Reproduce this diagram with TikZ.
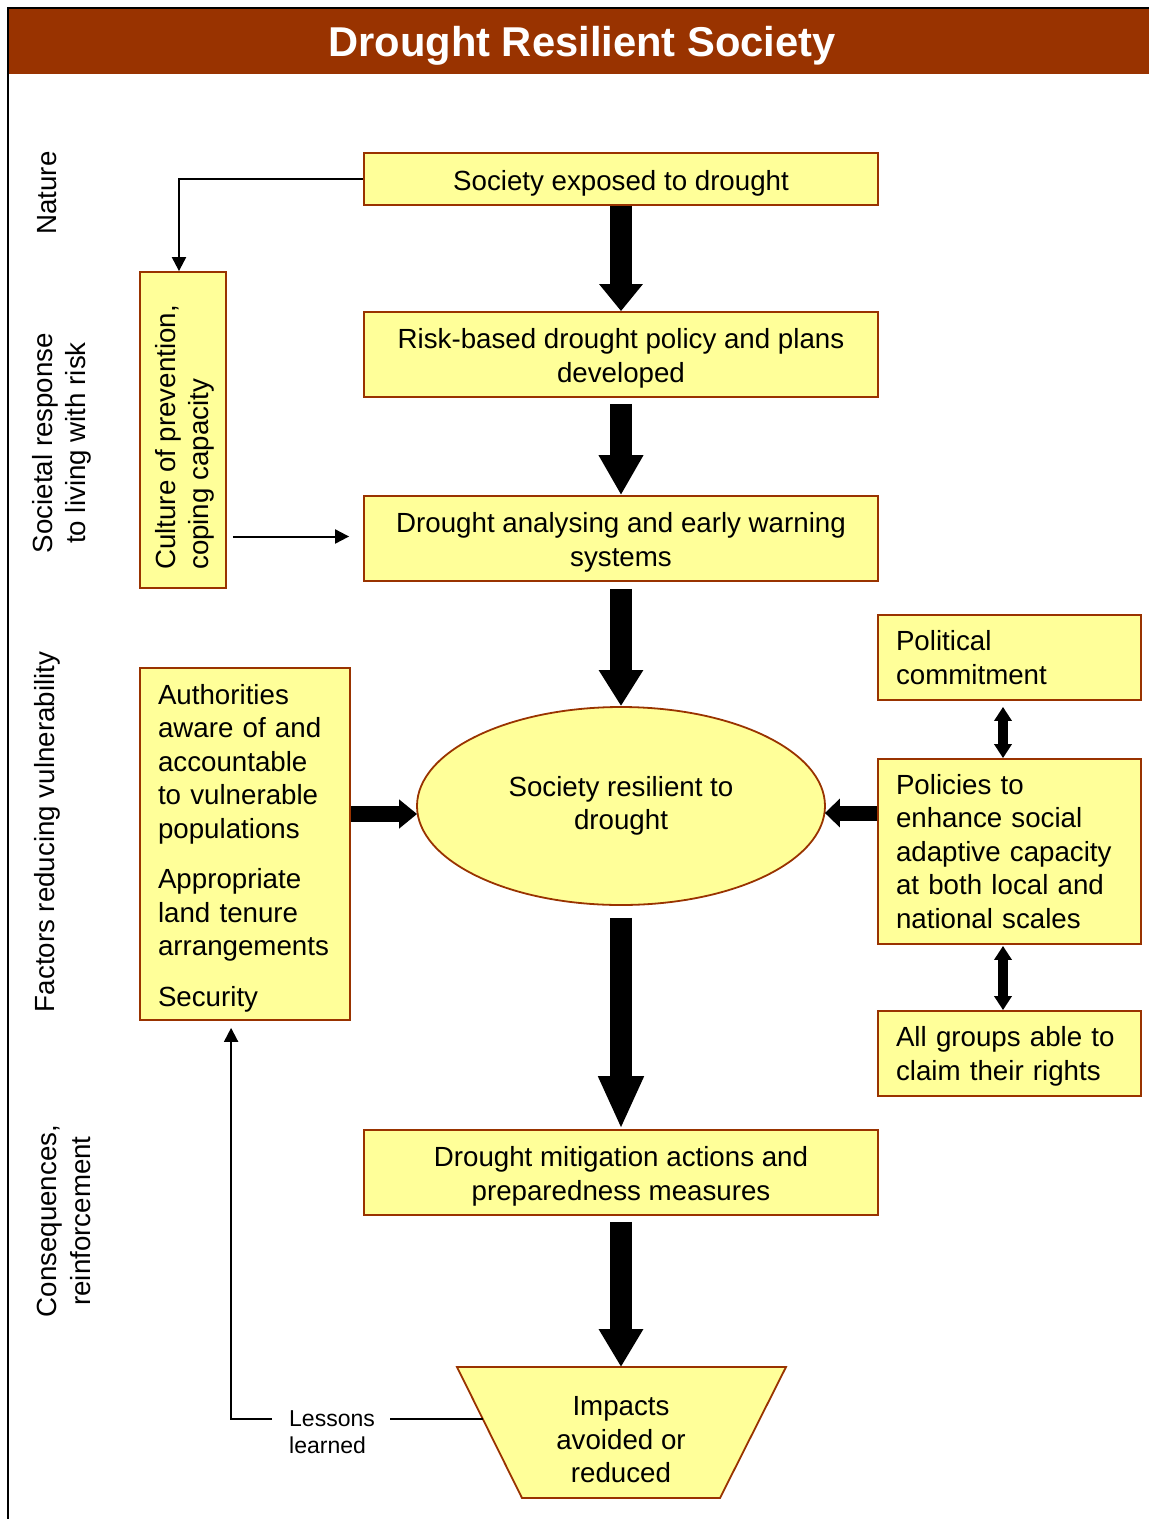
\documentclass[tikz,border=0pt]{standalone}
\usepackage{fontspec}
\setmainfont{Liberation Sans}
\usetikzlibrary{arrows.meta,shapes.geometric,calc}
\definecolor{boxfill}{HTML}{FFFF99}
\definecolor{boxline}{HTML}{993300}
\definecolor{banner}{HTML}{993300}
% taller first line, so the text block sits a little lower in its box
\newcommand{\dropline}{\rule{0pt}{28pt}}

\begin{document}
\begin{tikzpicture}[x=1pt,y=-1pt,
  txt/.style={font=\fontsize{27.7}{33.5}\selectfont},
  card/.style={txt, draw=boxline, fill=boxfill, line width=1.8pt, inner sep=0pt},
  midcard/.style={card, minimum width=514pt, align=center},
  sidecard/.style={card, text width=227pt, inner xsep=18pt, align=left, minimum width=263pt},
  sidelabel/.style={txt, rotate=90, align=center, inner sep=0pt},
  bigarrow/.style={line width=22pt, -{Triangle[length=#1, width=42pt]}},
  dblarrow/.style={line width=10pt, {Triangle[length=14pt,width=17pt]}-{Triangle[length=14pt,width=17pt]}},
  thinarrow/.style={line width=2pt, -{Triangle[length=14pt,width=14pt]}},
  thinline/.style={line width=2pt}
]
\useasboundingbox (0,0) rectangle (1149,1519);

% banner and frame
\fill[banner] (8,8) rectangle (1149,74);
\draw[line width=2pt] (8,1519) -- (8,8) -- (1149,8);
\node[font=\fontsize{41.7}{50}\selectfont\bfseries, text=white, inner sep=0pt] (title) at (582,46) {Drought Resilient Society};

% row labels
\node[sidelabel] (nat) at (47,193) {Nature};
\node[sidelabel] (soc) at (62,443) {Societal response\\to living with risk};
\node[sidelabel] (fac) at (47,832) {Factors reducing vulnerability};
\node[sidelabel] (con) at (64,1221) {Consequences,\\reinforcement};

% main chain
\node[midcard, minimum height=52pt] (b1) at (621,179) {\dropline Society exposed to drought};
\node[midcard, minimum height=85pt] (b2) at (621,354.5) {\dropline Risk-based drought policy and plans\\developed};
\node[midcard, minimum height=85pt] (b3) at (621,538.5) {\dropline Drought analysing and early warning\\systems};
\node[txt, ellipse, draw=boxline, fill=boxfill, line width=1.8pt, minimum width=408pt, minimum height=198pt, inner sep=0pt, align=center] (ell) at (621,806) {Society resilient to\\drought};
\node[midcard, minimum height=85pt] (b4) at (621,1172.5) {\dropline Drought mitigation actions and\\preparedness measures};

% impacts trapezoid
\coordinate (tl) at (457,1367);
\coordinate (tr) at (786,1367);
\coordinate (br) at (720,1498);
\coordinate (bl) at (522,1498);
\coordinate (imptop) at (621,1367);
\filldraw[draw=boxline, fill=boxfill, line width=1.8pt] (tl) -- (tr) -- (br) -- (bl) -- cycle;
\node[txt, align=center, inner sep=0pt] (imp) at (621,1440) {Impacts\\avoided or\\reduced};

% culture box with vertical text
\node[card, minimum width=86pt, minimum height=316pt] (cult) at (183,430) {};
\node[txt, rotate=90, anchor=west, align=left, inner sep=0pt] (culttxt) at (185,570) {Culture of prevention,\\coping capacity};

% left factors box
\node[card, text width=174pt, inner xsep=18pt, align=left, minimum height=352pt] (lb) at (245,844)
  {\dropline Authorities\\aware of and\\accountable\\to vulnerable\\populations\\[17pt]Appropriate\\land tenure\\arrangements\\[17pt]Security};

% right column
\node[sidecard, minimum height=85pt] (pc) at (1009.5,657.5) {Political\\commitment};
\node[sidecard, minimum height=185pt] (pol) at (1009.5,851.5) {Policies to\\enhance social\\adaptive capacity\\at both local and\\national scales};
\node[sidecard, minimum height=85pt] (grp) at (1009.5,1053.5) {\rule{0pt}{26pt}All groups able to\\claim their rights};

% heavy arrows of the main chain
\draw[bigarrow=27pt] (b1.south) -- (b2.north);
\draw[bigarrow=40pt, shorten <=6pt] (b2.south) -- (b3.north);
\draw[bigarrow=36pt, shorten <=7pt] (b3.south) -- (ell.north);
\draw[bigarrow=53pt, shorten <=12pt] (ell.south) -- (b4.north);
\draw[bigarrow=38pt, shorten <=6pt] (b4.south) -- (imptop);

% side inputs into the ellipse
\draw[line width=16pt, -{Triangle[length=18pt,width=28pt]}] ($(lb.east |- ell.west)+(0,8)$) -- ($(ell.west)+(1,8)$);
\draw[line width=15pt, -{Triangle[length=15pt,width=28pt]}] ($(pol.west |- ell.east)+(0,7)$) -- ($(ell.east)+(-1,7)$);

% two-way links in the right column
\draw[dblarrow] ($(pc.south)+(-6.5,6)$) -- ($(pol.north)+(-6.5,0)$);
\draw[dblarrow] ($(pol.south)+(-6.5,1)$) -- ($(grp.north)+(-6.5,0)$);

% thin links
\draw[thinarrow] (b1.west) -| ([xshift=-4pt]cult.north);
\draw[thinarrow] ($(cult.east |- b3.west)+(6,-2)$) -- ($(b3.west)+(-14,-2)$);

% lessons learned feedback
\node[font=\fontsize{23}{27}\selectfont, align=left, inner sep=0pt, anchor=west] (les) at (289,1432) {Lessons\\learned};
\coordinate (lesside) at ($(tl)!0.397!(bl)$);
\draw[thinline] (lesside) -- ($(les.east |- lesside)+(15,0)$);
\draw[thinarrow] ($(les.west |- lesside)+(-17,0)$) -| ($(lb.south west)+(92,7)$);
\end{tikzpicture}
\end{document}
